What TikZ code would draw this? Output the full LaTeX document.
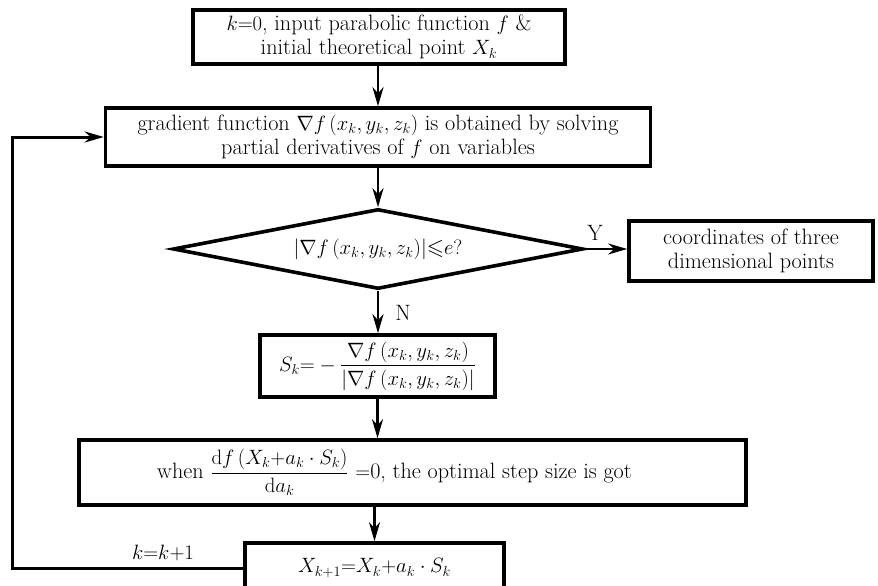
\documentclass[tikz,border=0pt]{standalone}
\usepackage{amsmath,amssymb}
\usetikzlibrary{shapes.geometric,arrows.meta}
\begin{document}
\begin{tikzpicture}[x=1pt,y=-1pt,
  txt/.style={font=\fontsize{22.2}{24.5}\selectfont},
  box/.style={txt,draw,line width=3.6pt,rectangle,inner sep=0pt,align=center},
  dia/.style={txt,draw,line width=3.6pt,diamond,aspect=5,inner sep=0pt,align=center},
  arr/.style={line width=2.6pt,-{Stealth[length=19pt,width=11pt,inset=6pt]}},
  lbl/.style={txt,inner sep=0pt}]
\useasboundingbox (0,0) rectangle (878,586);
\clip (0,0) rectangle (878,586);
\node[box,minimum width=372pt,minimum height=54pt] (b1) at (379,37)
  {$k{=}0$, input parabolic function $f$ \&\\ initial theoretical point $X_k$};
\node[box,minimum width=545pt,minimum height=58pt] (b2) at (378,137)
  {gradient function $\nabla f\,(x_k, y_k, z_k)$ is obtained by solving\\ partial derivatives of $f$ on variables};
\node[dia,minimum width=410pt,minimum height=80pt] (d) at (378,249)
  {$|\nabla f\,(x_k, y_k, z_k)|{\leqslant}e?$};
\node[box,minimum width=244pt,minimum height=60pt] (r) at (751,251)
  {coordinates of three\\ dimensional points};
\node[box,minimum width=235pt,minimum height=62pt] (s) at (377.5,366)
  {$S_k{=}-\dfrac{\nabla f\,(x_k, y_k, z_k)}{|\nabla f\,(x_k, y_k, z_k)|}$};
\node[box,minimum width=667pt,minimum height=65pt] (st) at (412.5,472.5)
  {when $\dfrac{\mathrm{d}f\,(X_k{+}a_k\cdot S_k)}{\mathrm{d}a_k}$ $=$0, the optimal step size is got\hspace*{36pt}};
\node[box,minimum width=259pt,minimum height=50pt] (x) at (374.5,568)
  {$X_{k+1}{=}X_k{+}a_k\cdot S_k$};
\coordinate (lp) at (12,350);
\node[lbl] (ly) at (595,233) {Y};
\node[lbl] (ln) at (403,313) {N};
\node[lbl] (lk) at (163,553) {$k{=}k{+}1$};
\draw[arr] (b1.south -| d.north) -- (b2.north -| d.north);
\draw[arr] (b2.south -| d.north) -- (d.north);
\draw[arr] (d.east) -- (r.west |- d.east);
\draw[arr] (d.south) -- (s.north -| d.south);
\draw[arr] (s.south) -- (s.south |- st.north);
\draw[arr] (x.north |- st.south) -- (x.north);
\draw[arr,line width=3pt] (x.west) -- (x.west -| lp) |- (b2.west);
\end{tikzpicture}
\end{document}
